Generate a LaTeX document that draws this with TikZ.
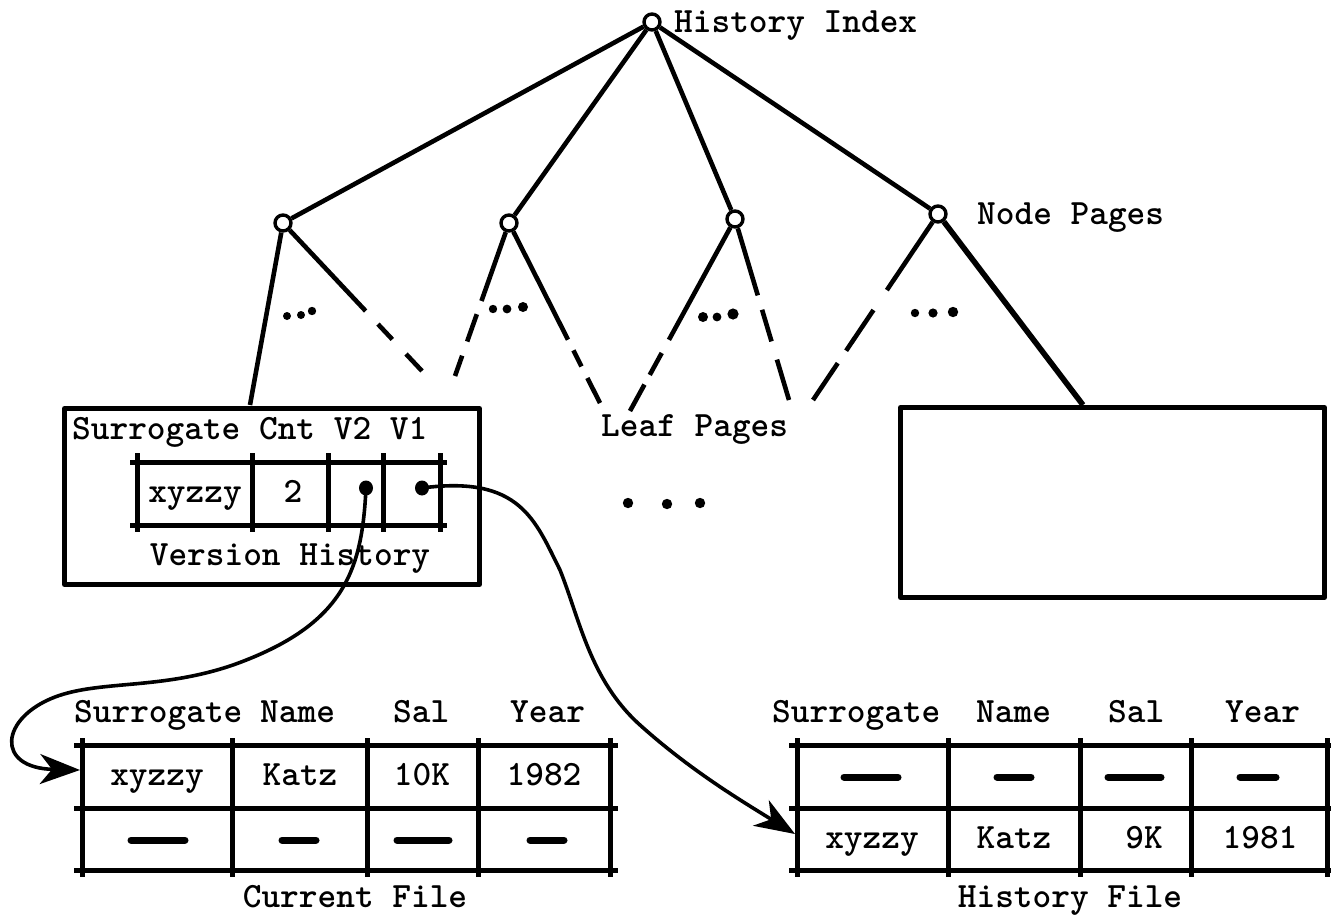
\documentclass[tikz,border=0pt]{standalone}
\usepackage{fontspec}
\usetikzlibrary{arrows.meta,shapes.geometric}
\newcommand{\twfont}{\fontsize{35.6}{40}\ttfamily\bfseries\selectfont}
\begin{document}
\begin{tikzpicture}[x=1pt,y=-1pt,line join=round,
  every node/.style={inner sep=0pt,font=\twfont},
  hub/.style={circle,draw,line width=3.4pt,fill=white,minimum size=16pt},
  edge/.style={line width=4.6pt},
  boxline/.style={draw,line width=5pt},
  tbl/.style={line width=5pt},
  bar/.style={line width=7pt,line cap=round},
  ptr/.style={ellipse,fill,minimum width=14pt,minimum height=15pt},
  arr/.style={line width=3.6pt,-{Stealth[length=40pt,width=30pt,inset=12pt]}},
  dotm/.style={fill}]
\useasboundingbox (0,0) rectangle (1331,918);

% ---------- tree ----------
\node[hub] (r)  at (652,22)  {};
\node[hub] (c1) at (283,223) {};
\node[hub] (c2) at (509,223) {};
\node[hub] (c3) at (735,219) {};
\node[hub] (c4) at (938,214) {};
\node[anchor=base west] (hi) at (674,32) {History Index};
\node[anchor=base west] (np) at (977,224) {Node Pages};
\node[anchor=base west] (lp) at (601,436) {Leaf Pages};

% boxes
\node[boxline,anchor=north west,minimum width=415pt,minimum height=176pt] (vh) at (62,406) {};
\node[boxline,anchor=north west,minimum width=424pt,minimum height=190pt] (rb) at (898,405) {};

\coordinate (t1)  at (250,405);
\coordinate (l1b) at (422,371);
\coordinate (l2a) at (455,376);
\coordinate (l2b) at (600,403);
\coordinate (l3a) at (630,411);
\coordinate (l3b) at (789,400);
\coordinate (l4a) at (813,400);
\coordinate (t4)  at (1083,405);

\foreach \c in {c1,c2,c3,c4} \draw[edge] (r) -- (\c);
\draw[edge] (c1) -- (t1);
\draw[edge,dash pattern=on 111pt off 18pt on 21pt off 20pt on 40pt] (c1) -- (l1b);
\draw[edge,dash pattern=on 73pt off 14pt on 29pt off 15pt on 40pt] (c2) -- (l2a);
\draw[edge,dash pattern=on 121pt off 12pt on 18pt off 13pt on 40pt] (c2) -- (l2b);
\draw[edge,dash pattern=on 128pt off 15pt on 25pt off 11pt on 40pt] (c3) -- (l3a);
\draw[edge,dash pattern=on 70pt off 15pt on 33pt off 19pt on 50pt] (c3) -- (l3b);
\draw[edge,dash pattern=on 82pt off 24pt on 49pt off 15pt on 60pt] (c4) -- (l4a);
\draw[line width=5.6pt] (c4) -- (t4);

% ellipsis dots in the subtrees
\fill[dotm] (287,316) circle (4) (301,315) circle (4) (312,311) circle (4.2);
\fill[dotm] (493,309) circle (4.2) (507,309) circle (4.4) (523,307) circle (5);
\fill[dotm] (703,317) circle (5) (717,317) circle (4.4) (733,314) circle (5.6);
\fill[dotm] (915,313) circle (4.2) (933,313) circle (4.6) (953,312) circle (5.2);
% leaf dots
\fill[dotm] (628,503) circle (5.2) (667,504) circle (5.2) (700,503) circle (5.2);

% ---------- version history record ----------
\node[anchor=base west] (vhh) at (72,439) {Surrogate Cnt V2 V1};
\foreach \x in {137,252,328,383,440} \draw[tbl] (\x,453) -- (\x,532);
\foreach \y in {462,525} \draw[tbl] (130,\y) -- (447,\y);
\node[anchor=base] (sx) at (195,502) {xyzzy};
\node[anchor=base] (sc) at (293,502) {2};
\node[ptr] (v2) at (366,488) {};
\node[ptr] (v1) at (422,488) {};
\node[anchor=base] (vhl) at (290,565) {Version History};

% ---------- current file ----------
\foreach \x in {82,232,367,478,610} \draw[tbl] (\x,738) -- (\x,877);
\foreach \y in {745,808,870} \draw[tbl] (74,\y) -- (618,\y);
\node[anchor=base west] (ch1) at (74,722) {Surrogate};
\node[anchor=base west] (ch2) at (260,722) {Name};
\node[anchor=base west] (ch3) at (393,722) {Sal};
\node[anchor=base west] (ch4) at (510,722) {Year};
\node[anchor=base] (cr1) at (157,785) {xyzzy};
\node[anchor=base] (cr2) at (300,785) {Katz};
\node[anchor=base] (cr3) at (422,785) {10K};
\node[anchor=base] (cr4) at (544,785) {1982};
\draw[bar] (131,840) -- (185,840);
\draw[bar] (282,840) -- (316,840);
\draw[bar] (397,840) -- (449,840);
\draw[bar] (530,840) -- (564,840);
\node[anchor=base] (cf) at (355,907) {Current File};

% ---------- history file ----------
\foreach \x in {797,948,1080,1191,1327} \draw[tbl] (\x,738) -- (\x,877);
\foreach \y in {745,808,870} \draw[tbl] (789,\y) -- (1331,\y);
\node[anchor=base west] (hh1) at (772,722) {Surrogate};
\node[anchor=base west] (hh2) at (976,722) {Name};
\node[anchor=base west] (hh3) at (1108,722) {Sal};
\node[anchor=base west] (hh4) at (1225,722) {Year};
\draw[bar] (844,777) -- (898,777);
\draw[bar] (997,777) -- (1031,777);
\draw[bar] (1108,777) -- (1161,777);
\draw[bar] (1240,777) -- (1276,777);
\node[anchor=base] (hr1) at (872,848) {xyzzy};
\node[anchor=base] (hr2) at (1014,848) {Katz};
\node[anchor=base east] (hr3) at (1163,848) {9K};
\node[anchor=base] (hr4) at (1260,848) {1981};
\node[anchor=base] (hf) at (1070,907) {History File};

% ---------- pointers ----------
\coordinate (ct) at (80,770);
\coordinate (ht) at (795,834);
\draw[arr] (v2.center) .. controls (362,570) and (345,625) .. (233,665)
  .. controls (160,690) and (100,680) .. (55,697)
  .. controls (0,718) and (-5,768) .. (ct);
\draw[arr] (v1.center) .. controls (520,475) and (535,520) .. (560,570)
  .. controls (580,620) and (590,680) .. (640,725)
  .. controls (690,770) and (740,800) .. (ht);
\end{tikzpicture}
\end{document}
